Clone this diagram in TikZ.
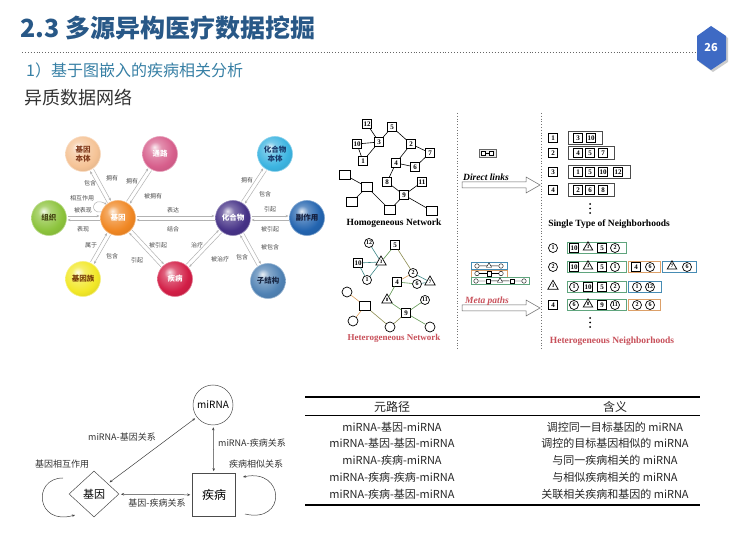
\documentclass[tikz,border=0pt]{standalone}
\usepackage{fontspec}
\setmainfont{Noto Sans CJK SC}
\newfontfamily\tnr{Liberation Serif}
\usetikzlibrary{shapes.geometric,calc,arrows.meta}
\definecolor{titleblue}{RGB}{40,88,135}
\definecolor{subblue}{RGB}{55,128,165}
\definecolor{hexblue}{RGB}{62,106,196}
\definecolor{tealc}{RGB}{60,135,135}
\definecolor{greenc}{RGB}{95,150,80}
\definecolor{orangec}{RGB}{220,160,95}
\definecolor{olivec}{RGB}{140,140,80}
\definecolor{grpg}{RGB}{95,165,125}
\definecolor{grpo}{RGB}{220,160,105}
\definecolor{grpb}{RGB}{70,140,180}
\definecolor{redlab}{RGB}{200,80,90}
\definecolor{cgb}{RGB}{245,195,150}
\definecolor{tgb}{RGB}{130,60,30}
\definecolor{cpw}{RGB}{215,95,140}
\definecolor{cts}{RGB}{140,195,60}
\definecolor{tts}{RGB}{70,70,20}
\definecolor{cgene}{RGB}{240,135,35}
\definecolor{cgf}{RGB}{242,232,40}
\definecolor{tgf}{RGB}{120,60,10}
\definecolor{cdis}{RGB}{210,30,70}
\definecolor{ccp}{RGB}{70,50,135}
\definecolor{ccpo}{RGB}{60,180,225}
\definecolor{tcpo}{RGB}{25,60,110}
\definecolor{cse}{RGB}{35,100,175}
\definecolor{tse}{RGB}{20,30,60}
\definecolor{csub}{RGB}{80,130,180}
\definecolor{tsub}{RGB}{25,40,70}
\colorlet{bc}{gray}
\pgfdeclareradialshading[bc]{myball}{\pgfpoint{-8bp}{10bp}}{color(0bp)=(bc!12!white); color(9bp)=(bc!70!white); color(24bp)=(bc); color(40bp)=(bc!85!black); color(60bp)=(bc!70!black)}
\newcommand\dlk[2]{%
  \draw[lk] ($(#1)!2pt!90:(#2)$) -- ($(#2)!2pt!-90:(#1)$);
  \draw[lk] ($(#2)!2pt!90:(#1)$) -- ($(#1)!2pt!-90:(#2)$);}
\begin{document}
\begin{tikzpicture}[x=1pt,y=-1pt,
  ball/.style={circle,minimum size=35pt,inner sep=0pt,align=center,font=\fontsize{7.5}{8.5}\selectfont\bfseries,shading=myball,/utils/exec={\colorlet{bc}{#1}},draw=#1!60!white,line width=0.6pt},
  lk/.style={draw=gray!60,line width=0.5pt,-{Stealth[length=3pt,width=2.4pt]},shorten >=18.5pt,shorten <=18.5pt},
  lb/.style={inner sep=0pt,font=\fontsize{6}{6}\selectfont,text=black!70},
  hb/.style={draw,line width=0.7pt,fill=white,minimum width=9pt,minimum height=8.5pt,inner sep=0.8pt,font=\tnr\bfseries\fontsize{7}{7}\selectfont},
  he/.style={draw,line width=0.7pt,fill=white,minimum width=11pt,minimum height=9pt,inner sep=0pt},
  hc/.style={circle,draw,line width=0.7pt,fill=white,minimum size=9pt,inner sep=0pt,font=\tnr\bfseries\fontsize{6}{6}\selectfont},
  ht/.style={regular polygon,regular polygon sides=3,draw,line width=0.7pt,fill=white,minimum size=12pt,inner sep=0pt,font=\tnr\bfseries\fontsize{5}{5}\selectfont},
  ed/.style={line width=0.6pt},
  grp/.style={line width=0.7pt},
  dot/.style={circle,fill=black,inner sep=0pt,minimum size=2pt},
  bl/.style={inner sep=1pt,font=\fontsize{9}{9}\selectfont,text=black!80},
  tb/.style={inner sep=0pt,font=\fontsize{11}{11}\selectfont,text=black!85},
  bar/.style={line width=0.5pt,draw=black!75,{Stealth[length=3pt,width=2.5pt]}-{Stealth[length=3pt,width=2.5pt]},shorten >=2pt,shorten <=2pt}
]
\useasboundingbox[fill=white] (0,0) rectangle (740,534);

% ---------- header ----------
\node[anchor=west,inner sep=0pt,font=\fontsize{25}{29}\selectfont\bfseries,text=titleblue] (title) at (20,28) {2.3 多源异构医疗数据挖掘};
\draw[dotted,line width=0.9pt,black!60] (22,52) -- (695,52);
\fill[black!20] (713,28) -- (728,38) -- (728,62) -- (713,72) -- (699,62) -- (699,38) -- cycle;
\fill[hexblue] (711,26) -- (726,36) -- (726,60) -- (711,70) -- (697,60) -- (697,36) -- cycle;
\node[text=white,font=\fontsize{11}{11}\selectfont\bfseries] (pg) at (711,48) {26};
\node[anchor=west,inner sep=0pt,font=\fontsize{16}{18}\selectfont,text=subblue] (sub) at (26,70) {1）基于图嵌入的疾病相关分析};
\node[anchor=west,inner sep=0pt,font=\fontsize{18}{20}\selectfont,text=black!80] (sub2) at (24,98) {异质数据网络};

% ---------- left heterogeneous network ----------
\node[ball=cgb,text=tgb] (gb) at (83,154) {基因\\本体};
\node[ball=cpw,text=white] (pw) at (160,154) {通路};
\node[ball=cts,text=tts] (ts) at (49,218) {组织};
\node[ball=cgene,text=white] (gene) at (118,218) {基因};
\node[ball=cgf,text=tgf] (gf) at (83,279) {基因族};
\node[ball=cdis,text=white] (dis) at (175,279) {疾病};
\node[ball=ccp,text=white] (cp) at (233,218) {化合物};
\node[ball=ccpo,text=tcpo] (cpo) at (275,154) {化合物\\本体};
\node[ball=cse,text=tse] (se) at (307,218) {副作用};
\node[ball=csub,text=tsub] (sub3) at (268,281) {子结构};

\dlk{gene}{gb}
\dlk{gene}{pw}
\dlk{gene}{ts}
\dlk{gene}{cp}
\dlk{gene}{gf}
\dlk{gene}{dis}
\dlk{cp}{dis}
\dlk{cp}{cpo}
\dlk{cp}{se}
\dlk{cp}{sub3}
\draw[draw=gray!60,line width=0.5pt,-{Stealth[length=2.5pt,width=2.2pt]}] (gene.160) .. controls (89,214) and (92,196) .. (gene.130);

\node[lb] (l1) at (90,183) {包含};
\node[lb] (l2) at (112,178) {拥有};
\node[lb] (l3) at (132,181) {拥有};
\node[lb] (l4) at (153,196) {被拥有};
\node[lb] (l5) at (82,198) {相互作用};
\node[lb] (l6) at (83,210) {被表现};
\node[lb] (l7) at (83,229) {表现};
\node[lb] (l8) at (91,245) {属于};
\node[lb] (l9) at (112,256) {包含};
\node[lb] (l10) at (137,260) {引起};
\node[lb] (l11) at (158,245) {被引起};
\node[lb] (l12) at (173,210) {表达};
\node[lb] (l13) at (173,229) {结合};
\node[lb] (l14) at (247,180) {拥有};
\node[lb] (l15) at (265,194) {包含};
\node[lb] (l16) at (270,209) {引起};
\node[lb] (l17) at (270,229) {被引起};
\node[lb] (l18) at (197,245) {治疗};
\node[lb] (l19) at (220,259) {被治疗};
\node[lb] (l20) at (242,257) {包含};
\node[lb] (l21) at (270,247) {被包含};

% ---------- homogeneous network ----------
\node[hb] (h12) at (367,124) {12};
\node[hb] (h5) at (392,127) {5};
\node[hb] (h10) at (357,144) {10};
\node[hb] (h3) at (379,142) {3};
\node[hb] (h2) at (411,144) {2};
\node[hb] (h7) at (430,153) {7};
\node[hb] (h1) at (363,161) {1};
\node[hb] (h4) at (396,163) {4};
\node[hb] (h6) at (415,167) {6};
\node[hb] (h8) at (387,182) {8};
\node[hb] (h11) at (422,182) {11};
\node[hb] (h9) at (404,195) {9};
\node[he] (he1) at (345,175) {};
\node[he] (he2) at (367,187) {};
\node[he] (he3) at (352,202) {};
\node[he] (he4) at (390,210) {};
\node[he] (he5) at (432,211) {};
\foreach \a/\b in {h12/h3,h10/h3,h3/h5,h3/h1,h10/h1,h5/h2,h2/h7,h2/h4,h4/h6,h6/h7,h4/h8,h8/h9,h9/h11,h9/he4,h9/he5,he1/he2,he2/he3,he2/he4}
  \draw[ed] (\a) -- (\b);
\node[font=\tnr\bfseries\fontsize{9.5}{10}\selectfont] (homo) at (394,223) {Homogeneous Network};

% ---------- heterogeneous network ----------
\node[hc] (t12) at (369,243) {12};
\node[hb] (t5) at (395,245) {5};
\node[hb] (t10) at (358,263) {10};
\node[ht] (t3) at (381,262) {3};
\node[hc] (t2) at (413,273) {2};
\node[ht] (t7) at (430,282) {7};
\node[hc] (t1) at (367,280) {1};
\node[hb] (t4) at (397,282) {4};
\node[hc] (t6) at (417,284) {6};
\node[ht] (t8) at (387,300) {8};
\node[hc] (t11) at (425,300) {11};
\node[hb] (t9) at (406,313) {9};
\node[hc,minimum size=10pt] (te1) at (347,292) {};
\node[he] (te2) at (365,306) {};
\node[hc,minimum size=10pt] (te3) at (353,321) {};
\node[hc,minimum size=10pt] (te4) at (390,327) {};
\node[hc,minimum size=10pt] (te5) at (430,327) {};
\foreach \a/\b/\c in {t12/t3/tealc,t10/t3/tealc,t3/t5/greenc,t3/t1/tealc,t10/t1/tealc,t5/t2/olivec,t2/t7/tealc,t2/t4/orangec,t4/t6/greenc,t6/t7/tealc,t4/t8/greenc,t8/t9/greenc,t9/t11/greenc,t9/te4/olivec,t9/te5/greenc,te1/te2/orangec,te2/te3/orangec,te2/te4/olivec}
  \draw[ed,draw=\c] (\a) -- (\b);
\node[font=\tnr\bfseries\fontsize{9}{10}\selectfont,text=redlab] (hetero) at (394,338) {Heterogeneous Network};

% ---------- separators ----------
\draw[dotted,line width=0.8pt,black!55] (457,113) -- (457,350);
\draw[dotted,line width=0.8pt,black!55] (541,113) -- (541,350);

% ---------- middle column ----------
\draw[black!60,fill=black!8,line width=0.5pt] (479,149.5) rectangle (496,157.5);
\node[draw,line width=0.5pt,fill=white,minimum size=4pt,inner sep=0pt] (i1) at (483.5,153.5) {};
\node[draw,line width=0.5pt,fill=white,minimum size=4pt,inner sep=0pt] (i2) at (491.5,153.5) {};
\draw[line width=0.5pt] (i1) -- (i2);
\draw[black!60,line width=0.5pt,fill=white] (462,182) -- (526,182) -- (526,177) -- (540,185) -- (526,193) -- (526,188) -- (462,188) -- cycle;
\node[font=\tnr\bfseries\itshape\fontsize{9.5}{10}\selectfont] (dlinks) at (486,177) {Direct links};

\draw[grpb,line width=0.6pt,fill=white] (471,262.5) rectangle (507,269.5);
\node[circle,draw,line width=0.4pt,minimum size=4.5pt,inner sep=0pt] (m1) at (477,266) {};
\node[regular polygon,regular polygon sides=3,draw,line width=0.4pt,minimum size=6pt,inner sep=0pt] (m2) at (489,265.8) {};
\node[circle,draw,line width=0.4pt,minimum size=4.5pt,inner sep=0pt] (m3) at (501,266) {};
\draw[line width=0.4pt] (m1) -- (m2) -- (m3);
\draw[grpo,line width=0.6pt,fill=white] (471,270) rectangle (507,277);
\node[circle,draw,line width=0.4pt,minimum size=4.5pt,inner sep=0pt] (m4) at (477,273.5) {};
\node[draw,line width=0.4pt,minimum size=4.5pt,inner sep=0pt] (m5) at (489,273.5) {};
\node[circle,draw,line width=0.4pt,minimum size=4.5pt,inner sep=0pt] (m6) at (501,273.5) {};
\draw[line width=0.4pt] (m4) -- (m5) -- (m6);
\draw[grpg,line width=0.6pt,fill=white] (471,277.5) rectangle (529,284.5);
\node[circle,draw,line width=0.4pt,minimum size=4.5pt,inner sep=0pt] (m7) at (476,281) {};
\node[draw,line width=0.4pt,minimum size=4.5pt,inner sep=0pt] (m8) at (488,281) {};
\node[regular polygon,regular polygon sides=3,draw,line width=0.4pt,minimum size=6pt,inner sep=0pt] (m9) at (500,280.8) {};
\node[draw,line width=0.4pt,minimum size=4.5pt,inner sep=0pt] (m10) at (512,281) {};
\node[circle,draw,line width=0.4pt,minimum size=4.5pt,inner sep=0pt] (m11) at (524,281) {};
\draw[line width=0.4pt] (m7) -- (m8) -- (m9) -- (m10) -- (m11);
\draw[black!60,line width=0.5pt,fill=white] (462,305) -- (526,305) -- (526,300) -- (540,308) -- (526,316) -- (526,311) -- (462,311) -- cycle;
\node[font=\tnr\bfseries\itshape\fontsize{9.5}{10}\selectfont,text=redlab] (mpaths) at (487,301) {Meta paths};

% ---------- right: single type neighborhoods ----------
\node[hb] (s1) at (553,138) {1};
\node[hb] (s2) at (553,153) {2};
\node[hb] (s3) at (553,172) {3};
\node[hb] (s4) at (553,190) {4};
\draw[grp,black!70] (568,131.5) rectangle (602,144.5);
\node[hb] (s1a) at (578,138) {3};
\node[hb] (s1b) at (591,138) {10};
\draw[grp,black!70] (568,146.5) rectangle (614,159.5);
\node[hb] (s2a) at (578,153) {4};
\node[hb] (s2b) at (590,153) {5};
\node[hb] (s2c) at (603,153) {7};
\draw[grp,black!70] (568,165.5) rectangle (630,178.5);
\node[hb] (s3a) at (578,172) {1};
\node[hb] (s3b) at (590,172) {5};
\node[hb] (s3c) at (603,172) {10};
\node[hb] (s3d) at (618,172) {12};
\draw[grp,black!70] (568,183.5) rectangle (614,196.5);
\node[hb] (s4a) at (578,190) {2};
\node[hb] (s4b) at (590,190) {6};
\node[hb] (s4c) at (603,190) {8};
\node[dot] (d1) at (590,204) {};
\node[dot] (d2) at (590,208.5) {};
\node[dot] (d3) at (590,213) {};
\node[font=\tnr\bfseries\fontsize{9.5}{10}\selectfont] (single) at (609,224) {Single Type of Neighborhoods};

% ---------- right: heterogeneous neighborhoods ----------
\node[hc] (x1) at (553,248) {1};
\node[hc] (x2) at (553,267) {2};
\node[ht] (x3) at (553,286.3) {3};
\node[hb] (x4) at (553,305) {4};
\draw[grp,grpg] (567,242.5) rectangle (626,253.5);
\node[hb] (y1a) at (574,248) {10};
\node[ht,minimum size=11pt] (y1b) at (588,247.3) {3};
\node[hb] (y1c) at (602,248) {5};
\node[hc] (y1d) at (615,248) {2};
\draw[grp,grpg] (567,261.5) rectangle (626,272.5);
\node[hb] (y2a) at (574,267) {10};
\node[ht,minimum size=11pt] (y2b) at (588,266.3) {3};
\node[hb] (y2c) at (602,267) {5};
\node[hc] (y2d) at (615,267) {1};
\draw[grp,grpo] (628,261.5) rectangle (660,272.5);
\node[hb] (y2e) at (636,267) {4};
\node[hc] (y2f) at (650,267) {6};
\draw[grp,grpb] (662,261.5) rectangle (696,272.5);
\node[ht,minimum size=11pt] (y2g) at (672,266.3) {7};
\node[hc] (y2h) at (687,267) {6};
\draw[grp,grpg] (567,281.5) rectangle (626,292.5);
\node[hc] (y3a) at (574,287) {1};
\node[hb] (y3b) at (588,287) {10};
\node[hb] (y3c) at (602,287) {5};
\node[hc] (y3d) at (615,287) {2};
\draw[grp,grpb] (628,281.5) rectangle (661,292.5);
\node[hc] (y3e) at (637,287) {1};
\node[hc] (y3f) at (650,287) {12};
\draw[grp,grpg] (567,299.5) rectangle (626,310.5);
\node[hc] (y4a) at (574,305) {6};
\node[ht,minimum size=11pt] (y4b) at (588,304.3) {8};
\node[hb] (y4c) at (602,305) {9};
\node[hc] (y4d) at (615,305) {11};
\draw[grp,grpo] (628,299.5) rectangle (660,310.5);
\node[hc] (y4e) at (637,305) {2};
\node[hc] (y4f) at (650,305) {6};
\node[dot] (d4) at (590,318) {};
\node[dot] (d5) at (590,322.5) {};
\node[dot] (d6) at (590,327) {};
\node[font=\tnr\bfseries\fontsize{9.5}{10}\selectfont,text=redlab] (hneigh) at (612,341) {Heterogeneous Neighborhoods};

% ---------- bottom-left schema ----------
\node[circle,draw=black!70,line width=0.5pt,minimum size=40pt,inner sep=0pt,font=\fontsize{10}{10}\selectfont] (mi) at (213,405) {miRNA};
\node[diamond,draw=black!70,line width=0.5pt,minimum width=50pt,minimum height=46pt,inner sep=0pt,font=\fontsize{11}{11}\selectfont] (ge) at (94,494) {基因};
\node[draw=black!70,line width=0.5pt,minimum size=43pt,inner sep=0pt,font=\fontsize{12}{12}\selectfont] (di) at (214,495) {疾病};
\draw[bar] (mi) -- (ge);
\draw[bar] (mi) -- (di);
\draw[bar] (ge) -- (di);
\node[bl] (b1) at (122,437) {miRNA-基因关系};
\node[bl] (b2) at (252,443) {miRNA-疾病关系};
\node[bl] (b3) at (157,503) {基因-疾病关系};
\node[bl] (b4) at (62,464) {基因相互作用};
\node[bl] (b5) at (256,464) {疾病相似关系};
\coordinate (la) at (63,478);
\coordinate (lb) at (75,515);
\coordinate (ra) at (245,514);
\coordinate (rb) at (243,477);
\draw[line width=0.5pt,black!75,-{Stealth[length=3pt,width=2.5pt]}] (la) .. controls (32,478) and (36,526) .. (lb);
\draw[line width=0.5pt,black!75,-{Stealth[length=3pt,width=2.5pt]}] (ra) .. controls (287,524) and (285,468) .. (rb);

% ---------- table ----------
\draw[line width=1.3pt] (305,397) -- (700,397);
\draw[line width=0.5pt] (305,415) -- (700,415);
\draw[line width=1.3pt] (305,505) -- (700,505);
\node[tb,font=\fontsize{12}{12}\selectfont] (th1) at (392,407) {元路径};
\node[tb,font=\fontsize{12}{12}\selectfont] (th2) at (615,407) {含义};
\node[tb] (c11) at (392,427) {miRNA-基因-miRNA};
\node[tb] (c12) at (615,427) {调控同一目标基因的 miRNA};
\node[tb] (c21) at (392,443.5) {miRNA-基因-基因-miRNA};
\node[tb] (c22) at (615,443.5) {调控的目标基因相似的 miRNA};
\node[tb] (c31) at (392,460) {miRNA-疾病-miRNA};
\node[tb] (c32) at (615,460) {与同一疾病相关的 miRNA};
\node[tb] (c41) at (392,477) {miRNA-疾病-疾病-miRNA};
\node[tb] (c42) at (615,477) {与相似疾病相关的 miRNA};
\node[tb] (c51) at (392,494) {miRNA-疾病-基因-miRNA};
\node[tb] (c52) at (615,494) {关联相关疾病和基因的 miRNA};
\end{tikzpicture}
\end{document}
